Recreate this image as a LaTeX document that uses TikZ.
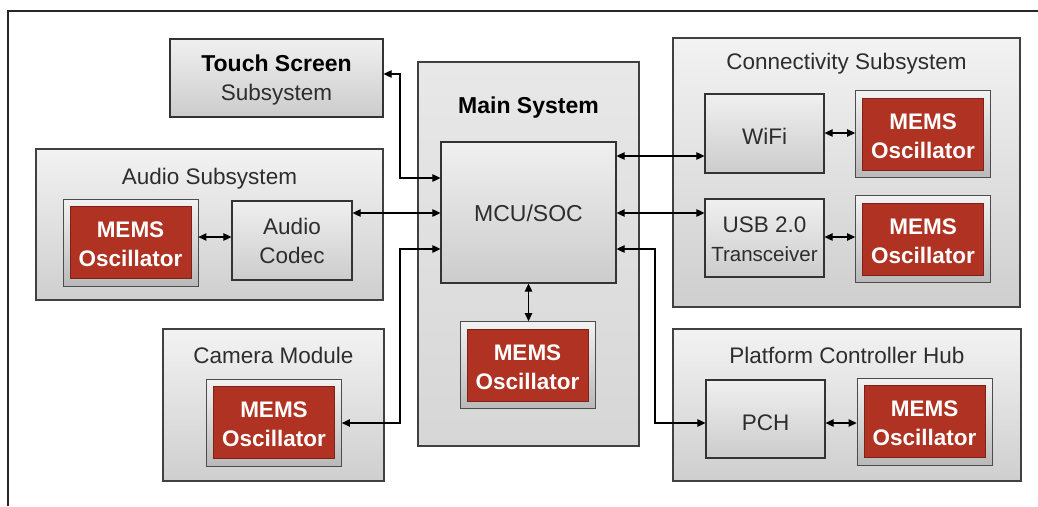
\documentclass[tikz,border=0pt]{standalone}
\usepackage{fontspec}
\setmainfont{Liberation Sans}
\usetikzlibrary{arrows.meta}
\definecolor{memsred}{RGB}{176,50,34}
\definecolor{txt}{RGB}{45,45,45}
\newcommand\shiftdown[2]{\raisebox{-#1}[\height][\depth]{#2}}
\newcommand\twoline[3][3pt]{\shiftdown{#1}{\begin{tabular}{@{}c@{}}#2\\#3\end{tabular}}}
\newcommand\memstext{\twoline[4pt]{MEMS}{Oscillator}}
\tikzset{
  big/.style={draw=black!75, line width=1.3pt, top color=gray!10, bottom color=gray!38, inner sep=0pt},
  mainbox/.style={draw=black!75, line width=1.3pt, top color=gray!18, bottom color=gray!32, inner sep=0pt},
  small/.style={draw=black!80, line width=1.2pt, top color=gray!12, bottom color=gray!40, text=txt, inner sep=0pt,
     font=\fontsize{22.5}{29}\selectfont},
  ttl/.style={text=txt, font=\fontsize{22.5}{29}\selectfont, inner sep=0pt, anchor=base},
  memsouter/.style={draw=gray!60!black, line width=0.8pt, top color=gray!10, bottom color=gray!55, minimum width=135pt, minimum height=87pt, inner sep=0pt},
  memsinner/.style={fill=memsred, draw=memsred!70!black, line width=0.4pt, minimum width=121pt, minimum height=72pt, text=white, inner sep=0pt,
     font=\fontsize{22.5}{29}\selectfont\bfseries},
  con/.style={line width=1.1pt, draw=black, {Triangle[length=8pt,width=7.5pt]}-{Triangle[length=8pt,width=7.5pt]}},
}
\begin{document}
\begin{tikzpicture}[x=1pt,y=-1pt]
\useasboundingbox (0,0) rectangle (1038,506);
\fill[white] (0,0) rectangle (1038,506);
\draw[line width=2pt, black!85] (8,506) -- (8,11) -- (1038,11);

% Touch screen
\node[small, minimum width=213pt, minimum height=78pt] (touch) at (276.5,78)
  {\twoline[2.5pt]{\fontsize{23}{28}\selectfont\bfseries\color{black}Touch Screen}{Subsystem}};

% Audio subsystem
\node[big, minimum width=347pt, minimum height=151pt] (audio) at (209.5,224.5) {};
\node[ttl] (audiot) at (209.5,184) {Audio Subsystem};
\node[memsouter] (amemsb) at (130.5,242.5) {};
\node[memsinner] (amems) at (amemsb.center) {\memstext};
\node[small, minimum width=120pt, minimum height=79pt] (codec) at (292,240.5) {\twoline{Audio}{Codec}};

% Main system
\node[mainbox, minimum width=221pt, minimum height=384pt] (main) at (528.5,254) {};
\node[ttl, text=black, font=\fontsize{23}{28}\selectfont\bfseries] (maint) at (528.5,113) {Main System};
\node[small, minimum width=175pt, minimum height=141pt, font=\fontsize{23}{29}\selectfont] (mcu) at (528.5,212.5) {\shiftdown{1pt}{MCU/SOC}};
\node[memsouter] (mmemsb) at (527.5,365) {};
\node[memsinner] (mmems) at (mmemsb.center) {\memstext};

% Camera module
\node[big, minimum width=221pt, minimum height=152pt] (cam) at (273.5,405) {};
\node[ttl] (camt) at (273.5,363) {Camera Module};
\node[memsouter] (cmemsb) at (274,422.5) {};
\node[memsinner] (cmems) at (cmemsb.center) {\memstext};

% Connectivity subsystem
\node[big, minimum width=347pt, minimum height=269pt] (conn) at (846.5,172.5) {};
\node[ttl] (connt) at (846.5,69) {Connectivity Subsystem};
\node[small, minimum width=119pt, minimum height=79pt] (wifi) at (764.5,133.5) {\shiftdown{3pt}{WiFi}};
\node[memsouter] (wmemsb) at (923,134) {};
\node[memsinner] (wmems) at (wmemsb.center) {\memstext};
\node[small, minimum width=119pt, minimum height=78pt] (usb) at (764.5,238) {\twoline[3pt]{USB 2.0}{\fontsize{20.5}{24}\selectfont Transceiver}};
\node[memsouter] (umemsb) at (923,239) {};
\node[memsinner] (umems) at (umemsb.center) {\memstext};

% Platform controller hub
\node[big, minimum width=348pt, minimum height=152pt] (hub) at (847,405) {};
\node[ttl] (hubt) at (847,363) {Platform Controller Hub};
\node[small, minimum width=119pt, minimum height=78pt] (pch) at (765.5,419) {\shiftdown{4pt}{PCH}};
\node[memsouter] (pmemsb) at (924.5,421.5) {};
\node[memsinner] (pmems) at (pmemsb.center) {\memstext};

% Connectors
\draw[con] (touch.east |- 0,74) -- (400,74) -- (400,178) -- (mcu.west |- 0,178);
\draw[con] (codec.east |- 0,213) -- (mcu.west |- 0,213);
\draw[con] (cmemsb.east |- 0,423) -- (400,423) -- (400,249) -- (mcu.west |- 0,249);
\draw[con] (mcu.east |- 0,156) -- (wifi.west |- 0,156);
\draw[con] (mcu.east |- 0,213) -- (usb.west |- 0,213);
\draw[con] (mcu.east |- 0,249) -- (655,249) -- (655,423) -- (pch.west |- 0,423);
\draw[con] (mcu.south) -- (mcu.south |- mmemsb.north);
\draw[con] (amemsb.east |- 0,237) -- (codec.west |- 0,237);
\draw[con] (wifi.east |- 0,133) -- (wmemsb.west |- 0,133);
\draw[con] (usb.east |- 0,237) -- (umemsb.west |- 0,237);
\draw[con] (pch.east |- 0,423) -- (pmemsb.west |- 0,423);
\end{tikzpicture}
\end{document}
